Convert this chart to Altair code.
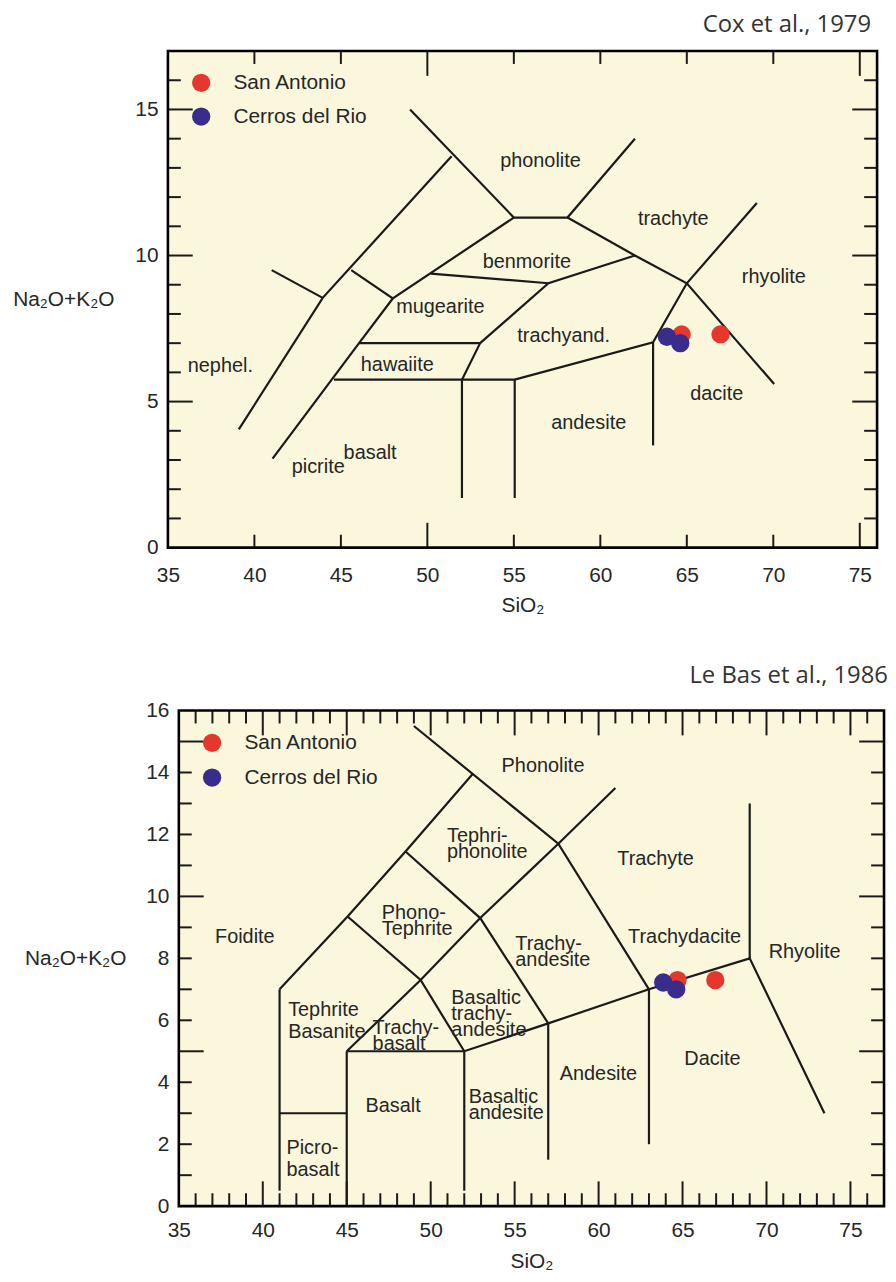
import altair as alt
import pandas as pd

# ---------------- data ----------------
SAMPLE_NAMES = ["San Antonio", "Cerros del Rio"]
SAMPLE_COLORS = ["#E5372C", "#3A2C8C"]
SAN_ANTONIO_SIO2 = [64.7, 66.95]
SAN_ANTONIO_ALK = [7.3, 7.3]
CERROS_SIO2 = [63.85, 64.62]
CERROS_ALK = [7.22, 7.0]

# --- Cox et al., 1979 ---
COX_SIO2_RANGE = [35, 76]
COX_ALK_RANGE = [0, 17]
COX_LINES = [
    [(39.1, 4.05), (43.95, 8.55), (51.4, 13.4)],
    [(41.0, 9.5), (43.95, 8.55)],
    [(49.0, 15.0), (55.0, 11.3), (58.1, 11.3), (62.0, 14.0)],
    [(58.1, 11.3), (62.0, 10.0), (65.0, 9.05), (70.05, 5.6)],
    [(62.0, 10.0), (57.0, 9.05), (53.05, 7.0)],
    [(50.2, 9.38), (57.0, 9.05)],
    [(45.6, 9.5), (48.0, 8.53), (55.0, 11.3)],
    [(41.05, 3.05), (46.05, 7.0), (48.0, 8.53)],
    [(46.05, 7.0), (53.05, 7.0), (52.0, 5.75), (52.0, 1.7)],
    [(44.6, 5.75), (55.05, 5.75), (63.05, 7.03), (65.0, 9.05), (69.05, 11.8)],
    [(55.05, 5.75), (55.05, 1.7)],
    [(63.05, 7.03), (63.05, 3.5)],
]
COX_LABEL_TEXT = ["phonolite", "trachyte", "benmorite", "rhyolite", "mugearite",
                  "trachyand.", "nephel.", "hawaiite", "dacite", "andesite",
                  "basalt", "picrite"]
COX_LABEL_X = [56.54, 64.22, 55.75, 70.03, 50.75, 57.88, 38.03, 48.26, 66.73, 59.33, 46.69, 43.69]
COX_LABEL_Y = [13.24, 11.25, 9.78, 9.27, 8.25, 7.23, 6.21, 6.25, 5.25, 4.26, 3.23, 2.75]
COX_X_LABELS = [35, 40, 45, 50, 55, 60, 65, 70, 75]
COX_Y_LABELS = [0, 5, 10, 15]
COX_X_TICKS_SHORT = [40, 45, 55, 60, 65, 70]
COX_X_TICKS_LONG = [50, 75]
COX_Y_TICKS_SHORT = [1, 2, 3, 4, 6, 7, 8, 9, 11, 12, 13, 14, 16]
COX_Y_TICKS_LONG = [5, 10, 15]

# --- Le Bas et al., 1986 ---
LEBAS_SIO2_RANGE = [35, 77]
LEBAS_ALK_RANGE = [0, 16]
LEBAS_LINES = [
    [(49.0, 15.5), (57.6, 11.7), (63.0, 7.0)],
    [(41.0, 7.0), (45.05, 9.35), (48.5, 11.45), (52.5, 13.95)],
    [(45.0, 5.0), (49.4, 7.3), (52.95, 9.3), (57.6, 11.7), (61.0, 13.5)],
    [(45.05, 9.35), (49.4, 7.3), (52.0, 5.0)],
    [(48.5, 11.45), (52.95, 9.3), (57.0, 5.9)],
    [(41.0, 3.0), (45.0, 3.0)],
    [(45.0, 5.0), (52.0, 5.0), (57.0, 5.9), (63.0, 7.0), (69.0, 8.0), (73.45, 3.0)],
    [(41.0, 7.0), (41.0, 0.5)],
    [(45.0, 5.0), (45.0, 0.0)],
    [(52.0, 5.0), (52.0, 0.5)],
    [(57.0, 5.9), (57.0, 1.5)],
    [(63.0, 7.0), (63.0, 2.0)],
    [(69.0, 8.0), (69.0, 13.0)],
]
LEBAS_LABEL_TEXT = ["Phonolite", "Trachyte", "Trachydacite", "Rhyolite", "Foidite",
                    "Basalt", "Andesite", "Dacite"]
LEBAS_LABEL_X = [56.69, 63.39, 65.12, 72.27, 38.93, 47.76, 59.99, 66.78]
LEBAS_LABEL_Y = [14.2, 11.21, 8.69, 8.21, 8.69, 3.24, 4.26, 4.74]
LEBAS_TIGHT_TEXT = ["Tephri-\nphonolite", "Phono-\nTephrite", "Trachy-\nandesite",
                    "Trachy-\nbasalt", "Basaltic\ntrachy-\nandesite", "Basaltic\nandesite"]
LEBAS_TIGHT_X = [50.97, 47.09, 55.04, 46.54, 51.23, 52.26]
LEBAS_TIGHT_Y = [11.96, 9.47, 8.45, 5.75, 6.71, 3.51]
LEBAS_LOOSE_TEXT = ["Tephrite\nBasanite", "Picro-\nbasalt"]
LEBAS_LOOSE_X = [41.51, 41.41]
LEBAS_LOOSE_Y = [6.34, 1.88]
LEBAS_X_LABELS = [35, 40, 45, 50, 55, 60, 65, 70, 75]
LEBAS_Y_LABELS = [0, 2, 4, 6, 8, 10, 12, 14, 16]
LEBAS_X_TICKS_LONG = [40, 45, 50, 55, 60, 65, 70, 75]
LEBAS_X_TICKS_SHORT = [v for v in range(36, 77) if v % 5 != 0]
LEBAS_Y_TICKS_LONG = [5, 10, 15]
LEBAS_Y_TICKS_SHORT = [v for v in range(1, 16) if v % 5 != 0]

# ---------------- style ----------------
FONT = "Liberation Sans"
TITLE_FONT = "Open Sans"
INK = "#1a1a1a"
TEXT = "#262626"
BG = "#FAF7DC"
SHORT_TICK = 13
LONG_TICK = 25


def polylines_df(lines):
    rows = []
    for i, line in enumerate(lines):
        for j, (x, y) in enumerate(line):
            rows.append({"seg": i, "ord": j, "x": x, "y": y})
    return pd.DataFrame(rows)


def points_df():
    rows = []
    k = 0
    for x, y in zip(SAN_ANTONIO_SIO2, SAN_ANTONIO_ALK):
        rows.append({"name": SAMPLE_NAMES[0], "x": x, "y": y, "k": k}); k += 1
    for x, y in zip(CERROS_SIO2, CERROS_ALK):
        rows.append({"name": SAMPLE_NAMES[1], "x": x, "y": y, "k": k}); k += 1
    return pd.DataFrame(rows)


def panel(view_x, frame_x, y_range, width, height, lines, labels, stacked,
          x_labels, y_labels, x_ticks, y_ticks, title, title_dx, title_offset,
          x_label_pad, x_title_x, x_title_y, y_title_x, y_axis_offset,
          legend_x, legend_y, legend_row_pad):
    xs = alt.Scale(domain=view_x, nice=False, zero=False)
    ys = alt.Scale(domain=y_range, nice=False, zero=False)

    x_axis = alt.Axis(values=x_labels, title="SiO₂", ticks=False, domain=False, grid=False,
                      labelFont=FONT, labelFontSize=21, labelColor=TEXT, labelPadding=x_label_pad,
                      labelFlush=False, titleFont=FONT, titleFontSize=21, titleFontWeight="normal",
                      titleColor=TEXT, titleX=x_title_x, titleY=x_title_y, titleBaseline="middle")
    y_axis = alt.Axis(values=y_labels, title="Na₂O+K₂O", ticks=False, domain=False, grid=False,
                      labelFont=FONT, labelFontSize=21, labelColor=TEXT, labelPadding=10,
                      labelFlush=False, titleFont=FONT, titleFontSize=21, titleFontWeight="normal",
                      titleColor=TEXT, titleAngle=0, titleAlign="right", titleBaseline="middle",
                      titleX=y_title_x, titleY=height / 2, offset=y_axis_offset)

    def X(f):
        return alt.X(f, type="quantitative", scale=xs, axis=x_axis)

    def Y(f):
        return alt.Y(f, type="quantitative", scale=ys, axis=y_axis)

    frame = pd.DataFrame([{"x0": frame_x[0], "x1": frame_x[1], "y0": y_range[0], "y1": y_range[1]}])

    bg = alt.Chart(frame).mark_rect(color=BG).encode(
        x=X("x0"), x2="x1:Q", y=Y("y0"), y2="y1:Q")

    line_layer = alt.Chart(polylines_df(lines)).mark_line(
        color=INK, strokeWidth=2.2, strokeJoin="miter").encode(
        x=X("x"), y=Y("y"), detail="seg:N", order="ord:Q")

    layers = [bg, line_layer]

    # ticks drawn inward from the frame
    for vals, length in ((x_ticks[0], SHORT_TICK), (x_ticks[1], LONG_TICK)):
        for edge, off in ((y_range[0], -length), (y_range[1], length)):
            d = pd.DataFrame({"v": vals, "e": [edge] * len(vals)})
            layers.append(alt.Chart(d).mark_rule(color=INK, strokeWidth=2, y2Offset=off).encode(
                x=X("v"), y=Y("e"), y2="e:Q"))
    for vals, length in ((y_ticks[0], SHORT_TICK), (y_ticks[1], LONG_TICK)):
        for edge, off in ((frame_x[0], length), (frame_x[1], -length)):
            d = pd.DataFrame({"v": vals, "e": [edge] * len(vals)})
            layers.append(alt.Chart(d).mark_rule(color=INK, strokeWidth=2, x2Offset=off).encode(
                y=Y("v"), x=X("e"), x2="e:Q"))

    # region names
    lt, lx, ly = labels
    layers.append(alt.Chart(pd.DataFrame({"t": lt, "x": lx, "y": ly})).mark_text(
        font=FONT, fontSize=20, color=TEXT, align="center", baseline="middle").encode(
        x=X("x"), y=Y("y"), text="t:N"))
    for (st, sx, sy, lh) in stacked:
        layers.append(alt.Chart(pd.DataFrame({"t": st, "x": sx, "y": sy})).mark_text(
            font=FONT, fontSize=20, color=TEXT, align="left", baseline="middle",
            lineBreak="\n", lineHeight=lh).encode(
            x=X("x"), y=Y("y"), text="t:N"))

    # samples
    layers.append(alt.Chart(points_df()).mark_circle(size=340, opacity=1).encode(
        x=X("x"), y=Y("y"),
        color=alt.Color("name:N", scale=alt.Scale(domain=SAMPLE_NAMES, range=SAMPLE_COLORS),
                        legend=alt.Legend(title=None, orient="none", legendX=legend_x,
                                          legendY=legend_y, symbolSize=340, symbolType="circle",
                                          symbolStrokeWidth=0, labelFont=FONT, labelFontSize=21,
                                          labelColor=TEXT, labelOffset=22, rowPadding=legend_row_pad,
                                          padding=0)),
        order="k:Q"))

    # frame on top
    layers.append(alt.Chart(frame).mark_rect(filled=False, color="black", strokeWidth=2.6).encode(
        x=X("x0"), x2="x1:Q", y=Y("y0"), y2="y1:Q"))

    return alt.layer(*layers).properties(
        width=width, height=height,
        title=alt.TitleParams(title, anchor="end", frame="group", font=TITLE_FONT, fontSize=24,
                              fontWeight="normal", color="#333333", dx=title_dx,
                              offset=title_offset))


COX_W, COX_H = 714, 500
LEBAS_W, LEBAS_H = 721, 499
LEBAS_PX = 710 / (LEBAS_SIO2_RANGE[1] - LEBAS_SIO2_RANGE[0])
LEBAS_INSET = 11
LEBAS_VIEW_X = [LEBAS_SIO2_RANGE[0] - LEBAS_INSET / LEBAS_PX, LEBAS_SIO2_RANGE[1]]

top = panel(COX_SIO2_RANGE, COX_SIO2_RANGE, COX_ALK_RANGE, COX_W, COX_H, COX_LINES,
            (COX_LABEL_TEXT, COX_LABEL_X, COX_LABEL_Y), [],
            COX_X_LABELS, COX_Y_LABELS, (COX_X_TICKS_SHORT, COX_X_TICKS_LONG),
            (COX_Y_TICKS_SHORT, COX_Y_TICKS_LONG), "Cox et al., 1979", -6, 13,
            17, COX_W / 2, 58, -54.3, 0, 23, 21.5, 12)

bottom = panel(LEBAS_VIEW_X, LEBAS_SIO2_RANGE, LEBAS_ALK_RANGE, LEBAS_W, LEBAS_H, LEBAS_LINES,
               (LEBAS_LABEL_TEXT, LEBAS_LABEL_X, LEBAS_LABEL_Y),
               [(LEBAS_TIGHT_TEXT, LEBAS_TIGHT_X, LEBAS_TIGHT_Y, 16),
                (LEBAS_LOOSE_TEXT, LEBAS_LOOSE_X, LEBAS_LOOSE_Y, 22.5)],
               LEBAS_X_LABELS, LEBAS_Y_LABELS, (LEBAS_X_TICKS_SHORT, LEBAS_X_TICKS_LONG),
               (LEBAS_Y_TICKS_SHORT, LEBAS_Y_TICKS_LONG), "Le Bas et al., 1986", 4, 11.5,
               14, LEBAS_INSET + 355, 56, -53.3, -LEBAS_INSET, LEBAS_INSET + 23, 22, 13)

chart = alt.vconcat(top, bottom, spacing=49).resolve_scale(
    x="independent", y="independent", color="independent").resolve_legend(
    color="independent").properties(
    padding={"left": 4, "top": 0, "right": 0, "bottom": 2},
    background="white").configure_view(strokeWidth=0)

chart.save("out.html", embed_options={"renderer": "svg", "actions": False})
